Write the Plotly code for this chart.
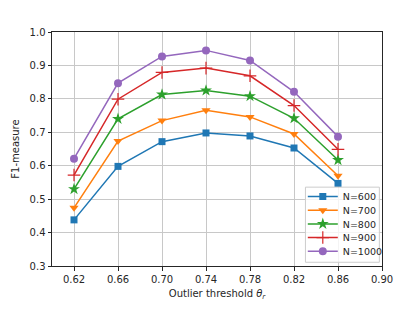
import plotly.graph_objects as go

thresholds = [0.62, 0.66, 0.70, 0.74, 0.78, 0.82, 0.86]
n600 = [0.438, 0.598, 0.672, 0.698, 0.689, 0.653, 0.547]
n700 = [0.474, 0.674, 0.735, 0.766, 0.746, 0.695, 0.570]
n800 = [0.530, 0.740, 0.813, 0.825, 0.808, 0.742, 0.617]
n900 = [0.572, 0.799, 0.879, 0.892, 0.869, 0.780, 0.649]
n1000 = [0.621, 0.847, 0.927, 0.945, 0.915, 0.821, 0.687]
x_ticks = [0.62, 0.66, 0.70, 0.74, 0.78, 0.82, 0.86, 0.90]
y_ticks = [0.3, 0.4, 0.5, 0.6, 0.7, 0.8, 0.9, 1.0]

series = [
    ("N=600", n600, "#1f77b4", "square", 7),
    ("N=700", n700, "#ff7f0e", "triangle-down", 8),
    ("N=800", n800, "#2ca02c", "star", 9),
    ("N=900", n900, "#d62728", "cross-thin", 9),
    ("N=1000", n1000, "#9467bd", "circle", 8),
]

font = dict(family="DejaVu Sans", size=10, color="#262626")
legend_font = dict(family="DejaVu Sans", size=9.5, color="#262626")

fig = go.Figure()
legend_layouts = {}
for i, (name, vals, color, sym, size) in enumerate(series):
    lname = "legend" if i == 0 else f"legend{i + 1}"
    fig.add_trace(go.Scatter(
        x=thresholds, y=vals, name=name, mode="lines+markers",
        line=dict(color=color, width=1.5),
        marker=dict(symbol=sym, size=size, color=color,
                    line=dict(color=color, width=1.2 if sym == "cross-thin" else 0)),
        legend=lname,
    ))
    legend_layouts[lname] = dict(
        x=0.760, y=0.297 - i * 0.0585, xanchor="left", yanchor="middle",
        bgcolor="rgba(0,0,0,0)", borderwidth=0, font=legend_font,
        itemwidth=30,
    )

axis_common = dict(
    showgrid=True, gridcolor="#c8c8c8", gridwidth=1,
    showline=True, linecolor="#262626", linewidth=1, mirror=True,
    ticks="outside", ticklen=3.5, tickcolor="#262626", tickfont=font,
    zeroline=False,
)
fig.update_layout(
    width=399, height=306,
    margin=dict(l=44, r=25, t=24, b=48, autoexpand=False),
    paper_bgcolor="white", plot_bgcolor="white",
    font=font,
    xaxis=dict(range=[0.60, 0.90], tickvals=x_ticks,
               ticktext=[f"{v:.2f}" for v in x_ticks],
               title=dict(text="Outlier threshold <i>θ<sub>r</sub></i>", font=font, standoff=6),
               **axis_common),
    yaxis=dict(range=[0.3, 1.0], tickvals=y_ticks,
               ticktext=[f"{v:.1f}" for v in y_ticks],
               title=dict(text="F1-measure", font=font, standoff=8),
               **axis_common),
    shapes=[dict(type="rect", xref="paper", yref="paper",
                 x0=0.768, x1=0.992, y0=0.016, y1=0.337,
                 fillcolor="rgba(255,255,255,0.8)", line=dict(color="#cccccc", width=1),
                 layer="above")],
    showlegend=True,
    **legend_layouts,
)
fig.write_html("out.html")
